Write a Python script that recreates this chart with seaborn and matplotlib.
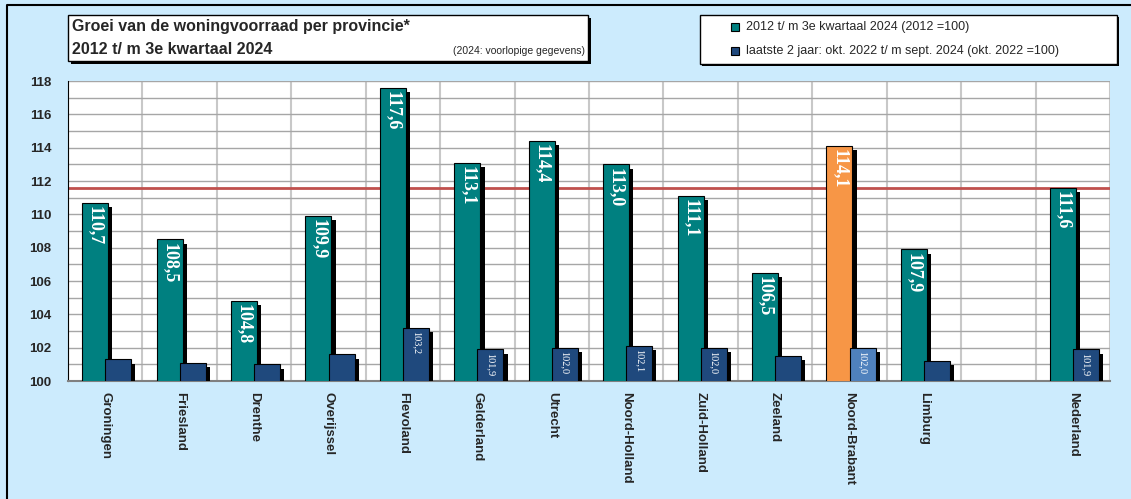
import matplotlib
matplotlib.use('Agg')
import matplotlib.pyplot as plt
import matplotlib.patheffects as pe
from matplotlib.patches import Rectangle
from matplotlib.lines import Line2D
from matplotlib.ticker import MultipleLocator
import pandas as pd
import seaborn as sns

# data
provinces = ['Groningen', 'Friesland', 'Drenthe', 'Overijssel', 'Flevoland', 'Gelderland',
             'Utrecht', 'Noord-Holland', 'Zuid-Holland', 'Zeeland', 'Noord-Brabant',
             'Limburg', 'Nederland']
order = provinces[:-1] + [' '] + ['Nederland']
since_2012 = [110.7, 108.5, 104.8, 109.9, 117.6, 113.1, 114.4, 113.0, 111.1, 106.5, 114.1, 107.9, 111.6]
last_2y = [101.3, 101.1, 101.0, 101.6, 103.2, 101.9, 102.0, 102.1, 102.0, 101.5, 102.0, 101.2, 101.9]
series = ['2012 t/ m 3e kwartaal 2024 (2012 =100)',
          'laatste 2 jaar: okt. 2022 t/ m sept. 2024 (okt. 2022 =100)']
highlight = 'Noord-Brabant'
reference_value = 111.6

teal, navy = '#008080', '#1F497D'
orange, lightblue = '#F79646', '#4F81BD'
bg = '#CCEBFD'

df = pd.DataFrame({
    'provincie': provinces * 2,
    'reeks': [series[0]] * len(provinces) + [series[1]] * len(provinces),
    'index': since_2012 + last_2y,
})

sns.set_style('white')
plt.rcParams['font.family'] = ['Liberation Sans', 'DejaVu Sans']

fig = plt.figure(figsize=(11.31, 4.99), dpi=100, facecolor=bg)
ax = fig.add_axes([68 / 1131, 1 - 381 / 499, 1042 / 1131, 300 / 499])

sns.barplot(data=df, x='provincie', y='index', hue='reeks', order=order,
            hue_order=series, palette=[teal, navy], width=0.7, saturation=1,
            edgecolor='black', linewidth=0.8, legend=False, ax=ax, zorder=3)

shadow = [pe.SimplePatchShadow(offset=(3, -3), shadow_rgbFace='black', alpha=1), pe.Normal()]
serif = ['Liberation Serif', 'DejaVu Serif']

for k, cont in enumerate(ax.containers):
    for bar in cont:
        xc = bar.get_x() + bar.get_width() / 2
        idx = int(round(xc))
        name = order[idx]
        if name not in provinces:
            continue
        h = bar.get_height()
        if k == 0:
            bar.set_x(bar.get_x() + 0.04)
            xc += 0.04
        if name == highlight:
            bar.set_facecolor(orange if k == 0 else lightblue)
        bar.set_path_effects(shadow)
        lbl = f'{h:.1f}'.replace('.', ',')
        if k == 0:
            ax.text(xc, h - 0.2, lbl, rotation=270, ha='center', va='top', color='white',
                    fontsize=13, fontweight='bold', family=serif, zorder=5)
        elif h >= 101.85:
            ax.text(xc, h - 0.2, lbl, rotation=270, ha='center', va='top', color='white',
                    fontsize=7.5, family=serif, zorder=5)

# red reference line (Nederland), behind the bars
ax.axhline(reference_value, color='#C0504D', lw=2, zorder=2)

ax.set_ylim(100, 118)
ax.set_xlim(-0.5, len(order) - 0.5)
ax.set_facecolor('white')
ax.yaxis.set_major_locator(MultipleLocator(2))
ax.yaxis.set_minor_locator(MultipleLocator(1))
ax.xaxis.set_minor_locator(MultipleLocator(1, offset=0.5))
ax.grid(which='both', axis='y', color='#A6A6A6', lw=1, zorder=0)
ax.grid(which='minor', axis='x', color='#C8C8C8', lw=1.5, zorder=0)
ax.set_axisbelow(True)

ax.set_xlabel('')
ax.set_ylabel('')
ax.tick_params(axis='y', which='major', direction='out', length=4, width=1, color='black',
               labelsize=9.5, pad=8)
ax.tick_params(axis='y', which='minor', direction='out', length=3, width=1, color='black')
ax.tick_params(axis='x', which='major', length=0, pad=8)
ax.tick_params(axis='x', which='minor', direction='out', length=4, width=1, color='black')
for t in ax.get_yticklabels():
    t.set_fontweight('bold')
ax.set_xticks(range(len(order)))
ax.set_xticklabels(order, rotation=270, ha='center', va='top', fontsize=9.5, fontweight='bold')

for side in ['top', 'right']:
    ax.spines[side].set_visible(False)
ax.spines['left'].set_color('black')
ax.spines['bottom'].set_color('#808080')
ax.spines['bottom'].set_linewidth(1.5)

# title box
W, H = 1131, 499
def fbox(x0, y0, x1, y1, sh):
    fig.patches.append(Rectangle((x0 / W + sh / W, 1 - (y1 + sh) / H), (x1 - x0) / W, (y1 - y0) / H,
                                 transform=fig.transFigure, facecolor='black', edgecolor='none',
                                 zorder=1))
    fig.patches.append(Rectangle((x0 / W, 1 - y1 / H), (x1 - x0) / W, (y1 - y0) / H,
                                 transform=fig.transFigure, facecolor='white', edgecolor='black',
                                 lw=1, zorder=2))

fbox(68, 15, 588, 61, 3)
fig.text(72 / W, 1 - 27 / H, 'Groei van de woningvoorraad per provincie*', fontsize=11.5,
         fontweight='bold', va='center', ha='left', zorder=3)
fig.text(72 / W, 1 - 50 / H, '2012 t/ m 3e kwartaal 2024', fontsize=11.5,
         fontweight='bold', va='center', ha='left', zorder=3)
fig.text(585 / W, 1 - 51 / H, '(2024: voorlopige gegevens)', fontsize=7.5,
         va='center', ha='right', zorder=3)

# legend box
fbox(700, 15, 1117, 64, 2)
for i, (name, col) in enumerate(zip(series, [teal, navy])):
    yy = 27 + i * 24
    fig.patches.append(Rectangle((731 / W, 1 - (yy + 4) / H), 8 / W, 8 / H,
                                 transform=fig.transFigure, facecolor=col, edgecolor='black',
                                 lw=0.8, zorder=3))
    fig.text(746 / W, 1 - yy / H, name, fontsize=9, va='center', ha='left', zorder=3)

# outer frame
fig.lines.append(Line2D([7 / W, 7 / W, 1], [0, 1 - 5 / H, 1 - 5 / H], transform=fig.transFigure,
                        color='black', lw=1.5))

fig.savefig('out.png', dpi=100, facecolor=bg)
plt.close(fig)
